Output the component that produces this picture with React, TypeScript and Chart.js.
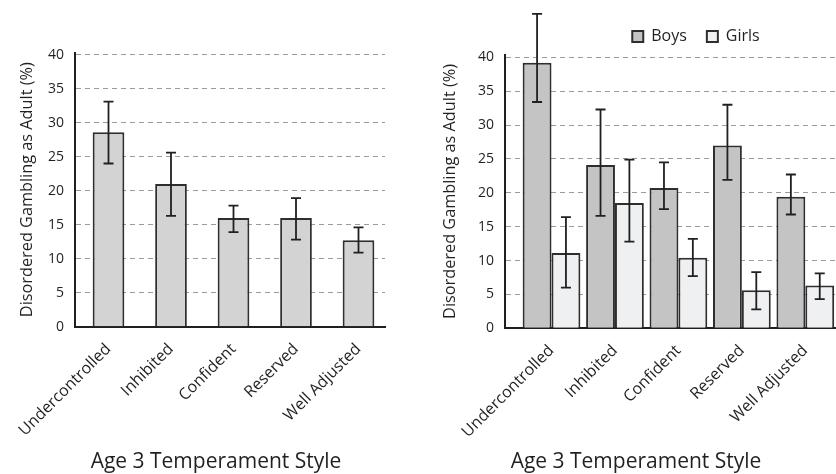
import React, { useEffect, useRef } from "react";
import { Chart, registerables } from "chart.js";

Chart.register(...registerables);

// Temperament groups measured at age 3
const styles = ["Undercontrolled", "Inhibited", "Confident", "Reserved", "Well Adjusted"];

// Whole sample: % with disordered gambling as adults, with error-bar limits
const allValues = [28.6, 21.0, 16.0, 16.0, 12.7];
const allUpper = [33.1, 25.6, 17.8, 18.9, 14.6];
const allLower = [24.0, 16.3, 13.9, 12.8, 10.9];

// Split by sex
const boysValues = [39.2, 24.1, 20.7, 27.0, 19.4];
const boysUpper = [46.4, 32.3, 24.5, 33.0, 22.7];
const boysLower = [33.4, 16.6, 17.6, 21.9, 16.8];

const girlsValues = [11.1, 18.5, 10.4, 5.6, 6.3];
const girlsUpper = [16.4, 24.9, 13.2, 8.3, 8.1];
const girlsLower = [6.0, 12.8, 7.7, 2.8, 4.3];

const yTickValues = [0, 5, 10, 15, 20, 25, 30, 35, 40];

const yTitle = "Disordered Gambling as Adult (%)";
const xTitle = "Age 3 Temperament Style";

const INK = "#231f20";
const FONT = "'Open Sans', 'Noto Sans', sans-serif";

Chart.defaults.font.family = FONT;
Chart.defaults.color = INK;

// Vertical error bars with caps, drawn over each bar from the dataset's limits
const errorBars = {
  id: "errorBars",
  afterDatasetsDraw(chart: any) {
    const { ctx } = chart;
    const yScale = chart.scales.y;
    chart.data.datasets.forEach((ds: any, di: number) => {
      const meta = chart.getDatasetMeta(di);
      if (!ds.errorUpper || meta.hidden) return;
      meta.data.forEach((bar: any, j: number) => {
        const x = bar.x;
        const yHi = yScale.getPixelForValue(ds.errorUpper[j]);
        const yLo = yScale.getPixelForValue(ds.errorLower[j]);
        const cap = 5;
        ctx.save();
        ctx.strokeStyle = INK;
        ctx.lineWidth = 1.8;
        ctx.beginPath();
        ctx.moveTo(x, yHi);
        ctx.lineTo(x, yLo);
        ctx.moveTo(x - cap, yHi);
        ctx.lineTo(x + cap, yHi);
        ctx.moveTo(x - cap, yLo);
        ctx.lineTo(x + cap, yLo);
        ctx.stroke();
        ctx.restore();
      });
    });
  },
};

// Caption under the rotated category labels
const caption = {
  id: "caption",
  afterDraw(chart: any, _args: any, opts: any) {
    const { ctx } = chart;
    ctx.save();
    ctx.font = `21px ${FONT}`;
    ctx.fillStyle = INK;
    ctx.textAlign = "center";
    ctx.textBaseline = "alphabetic";
    ctx.fillText(opts.text, opts.x, opts.y);
    ctx.restore();
  },
};

function buildOptions(cfg: {
  xMin: number;
  xMax: number;
  yMax: number;
  yWidth: number;
  xHeight: number;
  titlePad: number;
  padding: any;
  legend: boolean;
}) {
  return {
    responsive: false,
    animation: false as const,
    devicePixelRatio: 1,
    layout: { padding: cfg.padding },
    plugins: {
      legend: {
        display: cfg.legend,
        position: "top" as const,
        align: "center" as const,
        labels: {
          boxWidth: 11,
          boxHeight: 11,
          padding: 20,
          color: INK,
          font: { size: 16, family: FONT },
        },
      },
      tooltip: { enabled: false },
      caption: { text: xTitle, x: 216, y: 467.5 },
    },
    scales: {
      x: {
        type: "linear" as const,
        offset: false,
        min: cfg.xMin,
        max: cfg.xMax,
        grid: { display: false, offset: false },
        border: { display: true, color: INK, width: 2 },
        afterBuildTicks: (scale: any) => {
          scale.ticks = styles.map((_, i) => ({ value: i }));
        },
        afterFit: (scale: any) => {
          scale.height = cfg.xHeight;
        },
        ticks: {
          autoSkip: false,
          minRotation: 45,
          maxRotation: 45,
          padding: 5,
          color: INK,
          font: { size: 16, family: FONT },
          callback: (v: any) => styles[v] ?? "",
        },
      },
      y: {
        type: "linear" as const,
        min: 0,
        max: cfg.yMax,
        afterBuildTicks: (scale: any) => {
          scale.ticks = yTickValues.map((v) => ({ value: v }));
        },
        afterFit: (scale: any) => {
          scale.width = cfg.yWidth;
        },
        grid: { color: "#9b9b9b", lineWidth: 1, drawTicks: false },
        border: { display: true, color: INK, width: 2, dash: [5, 4] },
        ticks: {
          padding: 11,
          color: INK,
          font: { size: 14, family: FONT },
        },
        title: {
          display: true,
          text: yTitle,
          color: INK,
          font: { size: 16.3, family: FONT },
          padding: { top: cfg.titlePad, bottom: 0 },
        },
      },
    },
  };
}

export default function App() {
  const leftRef = useRef<HTMLCanvasElement>(null);
  const rightRef = useRef<HTMLCanvasElement>(null);

  useEffect(() => {
    const left = new Chart(leftRef.current!, {
      type: "bar",
      data: {
        datasets: [
          {
            label: "All",
            data: allValues.map((v, i) => ({ x: i, y: v })),
            backgroundColor: "#d3d3d3",
            borderColor: "#2e2e2e",
            borderWidth: 2,
            categoryPercentage: 0.507,
            barPercentage: 1,
            errorUpper: allUpper,
            errorLower: allLower,
          } as any,
        ],
      },
      options: buildOptions({
        xMin: -0.536,
        xMax: 4.424,
        yMax: 40.3,
        yWidth: 75,
        xHeight: 147.3,
        titlePad: 17.2,
        padding: { top: 52.7, right: 35, bottom: 0, left: 0 },
        legend: false,
      }) as any,
      plugins: [errorBars, caption],
    });

    const right = new Chart(rightRef.current!, {
      type: "bar",
      data: {
        datasets: [
          {
            label: "Boys",
            data: boysValues.map((v, i) => ({ x: i, y: v })),
            backgroundColor: "#c4c4c4",
            borderColor: "#2e2e2e",
            borderWidth: 2,
            categoryPercentage: 0.91,
            barPercentage: 1,
            errorUpper: boysUpper,
            errorLower: boysLower,
          } as any,
          {
            label: "Girls",
            data: girlsValues.map((v, i) => ({ x: i, y: v })),
            backgroundColor: "#eff0f2",
            borderColor: "#2e2e2e",
            borderWidth: 2,
            categoryPercentage: 0.91,
            barPercentage: 1,
            errorUpper: girlsUpper,
            errorLower: girlsLower,
          } as any,
        ],
      },
      options: buildOptions({
        xMin: -0.733,
        xMax: 6.627,
        yMax: 40.4,
        yWidth: 85,
        xHeight: 145.7,
        titlePad: 20.2,
        padding: { top: 8.6, right: 0, bottom: 0, left: 0 },
        legend: true,
      }) as any,
      plugins: [errorBars, caption],
    });

    return () => {
      left.destroy();
      right.destroy();
    };
  }, []);

  return (
    <div
      style={{
        position: "absolute",
        left: 0,
        top: 0,
        width: 836,
        height: 474,
        overflow: "hidden",
        background: "#fff",
      }}
    >
      <canvas
        ref={leftRef}
        width={420}
        height={474}
        style={{ position: "absolute", left: 0, top: 0 }}
      />
      <canvas
        ref={rightRef}
        width={552}
        height={474}
        style={{ position: "absolute", left: 420, top: 0 }}
      />
    </div>
  );
}
